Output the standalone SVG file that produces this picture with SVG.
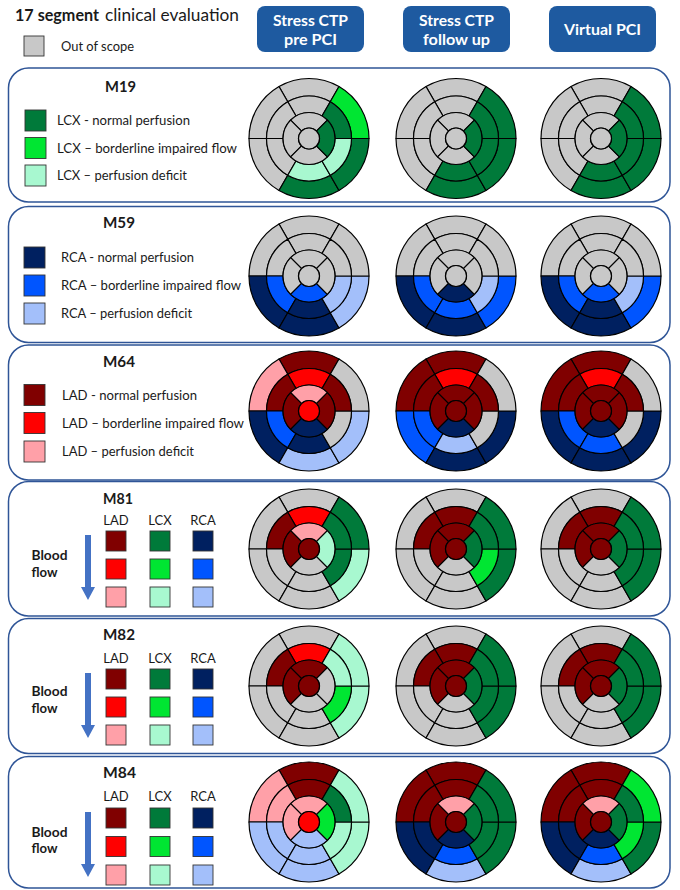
<svg xmlns="http://www.w3.org/2000/svg" xmlns:xlink="http://www.w3.org/1999/xlink" width="680" height="890" viewBox="0 0 680 890">
<style>
text{font-family:"Lato","Open Sans","Liberation Sans",sans-serif;fill:#1a1a1a}
.t{font-size:13px}
.b{font-weight:bold}
.m{font-size:15px;font-weight:bold}
.hd{font-size:15.5px;font-weight:bold;fill:#fff}
.hb{fill:#1e5aa0}
.pn{fill:#fff;stroke:#2f5597;stroke-width:1.5}
.be{stroke:#000;stroke-width:1.2;stroke-linejoin:round}
.sq{stroke:#333;stroke-width:0.9}
.g{fill:#c8c8c8}
.l1{fill:#800000}.l2{fill:#ff0000}.l3{fill:#ffa0a8}
.x1{fill:#007a3a}.x2{fill:#00e632}.x3{fill:#a8f8d0}
.r1{fill:#002060}.r2{fill:#0055ff}.r3{fill:#a3bffa}
.ar{fill:#4472c4}
</style>
<defs>
<path id="oT" d="M30,-51.96A60,60 0 0 0 -30,-51.96L-21.25,-36.81A42.5,42.5 0 0 1 21.25,-36.81Z"/>
<path id="oUL" d="M-30,-51.96A60,60 0 0 0 -60,0L-42.5,0A42.5,42.5 0 0 1 -21.25,-36.81Z"/>
<path id="oLL" d="M-60,0A60,60 0 0 0 -30,51.96L-21.25,36.81A42.5,42.5 0 0 1 -42.5,0Z"/>
<path id="oB" d="M-30,51.96A60,60 0 0 0 30,51.96L21.25,36.81A42.5,42.5 0 0 1 -21.25,36.81Z"/>
<path id="oLR" d="M30,51.96A60,60 0 0 0 60,0L42.5,0A42.5,42.5 0 0 1 21.25,36.81Z"/>
<path id="oUR" d="M60,0A60,60 0 0 0 30,-51.96L21.25,-36.81A42.5,42.5 0 0 1 42.5,0Z"/>
<path id="mT" d="M21.25,-36.81A42.5,42.5 0 0 0 -21.25,-36.81L-13,-22.52A26,26 0 0 1 13,-22.52Z"/>
<path id="mUL" d="M-21.25,-36.81A42.5,42.5 0 0 0 -42.5,0L-26,0A26,26 0 0 1 -13,-22.52Z"/>
<path id="mLL" d="M-42.5,0A42.5,42.5 0 0 0 -21.25,36.81L-13,22.52A26,26 0 0 1 -26,0Z"/>
<path id="mB" d="M-21.25,36.81A42.5,42.5 0 0 0 21.25,36.81L13,22.52A26,26 0 0 1 -13,22.52Z"/>
<path id="mLR" d="M21.25,36.81A42.5,42.5 0 0 0 42.5,0L26,0A26,26 0 0 1 13,22.52Z"/>
<path id="mUR" d="M42.5,0A42.5,42.5 0 0 0 21.25,-36.81L13,-22.52A26,26 0 0 1 26,0Z"/>
<path id="aT" d="M18.38,-18.38A26,26 0 0 0 -18.38,-18.38L-7.42,-7.42A10.5,10.5 0 0 1 7.42,-7.42Z"/>
<path id="aL" d="M-18.38,-18.38A26,26 0 0 0 -18.38,18.38L-7.42,7.42A10.5,10.5 0 0 1 -7.42,-7.42Z"/>
<path id="aB" d="M-18.38,18.38A26,26 0 0 0 18.38,18.38L7.42,7.42A10.5,10.5 0 0 1 -7.42,7.42Z"/>
<path id="aR" d="M18.38,18.38A26,26 0 0 0 18.38,-18.38L7.42,-7.42A10.5,10.5 0 0 1 7.42,7.42Z"/>
<circle id="c" r="10.5"/>
<path id="arrow" d="M-3,0H3V52H7L0,65L-7,52H-3Z"/>
</defs>

<g id="header">
<text x="15" y="21" class="b" style="font-size:17px" textLength="84" lengthAdjust="spacingAndGlyphs">17 segment</text>
<text x="105" y="21" style="font-size:17px" textLength="134" lengthAdjust="spacingAndGlyphs">clinical evaluation</text>
<rect x="24" y="36" width="20" height="20" class="g sq"/>
<text x="61" y="51" class="t" textLength="73" lengthAdjust="spacingAndGlyphs">Out of scope</text>
</g>
<g id="col-pre">
<rect x="257" y="6" width="107" height="46" rx="8" class="hb"/>
<text x="310.5" y="26" class="hd" text-anchor="middle" textLength="75" lengthAdjust="spacingAndGlyphs">Stress CTP</text>
<text x="310.5" y="45" class="hd" text-anchor="middle" textLength="53" lengthAdjust="spacingAndGlyphs">pre PCI</text>
</g>
<g id="col-follow">
<rect x="403" y="6" width="107" height="46" rx="8" class="hb"/>
<text x="456.5" y="26" class="hd" text-anchor="middle" textLength="75" lengthAdjust="spacingAndGlyphs">Stress CTP</text>
<text x="456.5" y="45" class="hd" text-anchor="middle" textLength="67" lengthAdjust="spacingAndGlyphs">follow up</text>
</g>
<g id="col-virtual">
<rect x="549" y="6" width="107" height="46" rx="8" class="hb"/>
<text x="602.5" y="35" class="hd" text-anchor="middle" textLength="77" lengthAdjust="spacingAndGlyphs">Virtual PCI</text>
</g>

<!-- Panel M19 -->
<g id="M19">
<rect x="8.5" y="68" width="661.5" height="134" rx="20" class="pn"/>
<text x="105" y="91.5" class="m" textLength="31" lengthAdjust="spacingAndGlyphs">M19</text>
<rect x="25" y="110" width="21" height="21" class="x1 sq"/>
<rect x="25" y="137.5" width="21" height="21" class="x2 sq"/>
<rect x="25" y="165" width="21" height="21" class="x3 sq"/>
<text x="57" y="125" class="t" textLength="133" lengthAdjust="spacingAndGlyphs">LCX - normal perfusion</text>
<text x="57" y="152.5" class="t" textLength="180" lengthAdjust="spacingAndGlyphs">LCX – borderline impaired flow</text>
<text x="57" y="180" class="t" textLength="130" lengthAdjust="spacingAndGlyphs">LCX – perfusion deficit</text>
<g class="be" transform="translate(309,138.5)">
<use href="#oT" class="g"/><use href="#oUL" class="g"/><use href="#oLL" class="g"/><use href="#oB" class="x1"/><use href="#oLR" class="x1"/><use href="#oUR" class="x2"/>
<use href="#mT" class="g"/><use href="#mUL" class="g"/><use href="#mLL" class="g"/><use href="#mB" class="x3"/><use href="#mLR" class="x3"/><use href="#mUR" class="x1"/>
<use href="#aT" class="g"/><use href="#aL" class="g"/><use href="#aB" class="g"/><use href="#aR" class="x1"/><use href="#c" class="g"/>
</g>
<g class="be" transform="translate(456,138.5)">
<use href="#oT" class="g"/><use href="#oUL" class="g"/><use href="#oLL" class="g"/><use href="#oB" class="x1"/><use href="#oLR" class="x1"/><use href="#oUR" class="x1"/>
<use href="#mT" class="g"/><use href="#mUL" class="g"/><use href="#mLL" class="g"/><use href="#mB" class="x1"/><use href="#mLR" class="x1"/><use href="#mUR" class="x1"/>
<use href="#aT" class="g"/><use href="#aL" class="g"/><use href="#aB" class="g"/><use href="#aR" class="x1"/><use href="#c" class="g"/>
</g>
<g class="be" transform="translate(601,138.5)">
<use href="#oT" class="g"/><use href="#oUL" class="g"/><use href="#oLL" class="g"/><use href="#oB" class="x1"/><use href="#oLR" class="x1"/><use href="#oUR" class="x1"/>
<use href="#mT" class="g"/><use href="#mUL" class="g"/><use href="#mLL" class="g"/><use href="#mB" class="x1"/><use href="#mLR" class="x1"/><use href="#mUR" class="x1"/>
<use href="#aT" class="g"/><use href="#aL" class="g"/><use href="#aB" class="g"/><use href="#aR" class="x1"/><use href="#c" class="g"/>
</g>
</g>

<!-- Panel M59 -->
<g id="M59">
<rect x="8.5" y="206.5" width="661.5" height="136" rx="20" class="pn"/>
<text x="103" y="228" class="m" textLength="32" lengthAdjust="spacingAndGlyphs">M59</text>
<rect x="24" y="247" width="21" height="21" class="r1 sq"/>
<rect x="24" y="275" width="21" height="21" class="r2 sq"/>
<rect x="24" y="303" width="21" height="21" class="r3 sq"/>
<text x="61" y="262" class="t" textLength="133" lengthAdjust="spacingAndGlyphs">RCA - normal perfusion</text>
<text x="61" y="290" class="t" textLength="180" lengthAdjust="spacingAndGlyphs">RCA – borderline impaired flow</text>
<text x="61" y="318" class="t" textLength="131" lengthAdjust="spacingAndGlyphs">RCA – perfusion deficit</text>
<g class="be" transform="translate(309,276)">
<use href="#oT" class="g"/><use href="#oUL" class="g"/><use href="#oLL" class="r1"/><use href="#oB" class="r1"/><use href="#oLR" class="r3"/><use href="#oUR" class="g"/>
<use href="#mT" class="g"/><use href="#mUL" class="g"/><use href="#mLL" class="r2"/><use href="#mB" class="r1"/><use href="#mLR" class="r3"/><use href="#mUR" class="g"/>
<use href="#aT" class="g"/><use href="#aL" class="g"/><use href="#aB" class="r2"/><use href="#aR" class="g"/><use href="#c" class="g"/>
</g>
<g class="be" transform="translate(456,276)">
<use href="#oT" class="g"/><use href="#oUL" class="g"/><use href="#oLL" class="r1"/><use href="#oB" class="r1"/><use href="#oLR" class="r2"/><use href="#oUR" class="g"/>
<use href="#mT" class="g"/><use href="#mUL" class="g"/><use href="#mLL" class="r2"/><use href="#mB" class="r2"/><use href="#mLR" class="r3"/><use href="#mUR" class="g"/>
<use href="#aT" class="g"/><use href="#aL" class="g"/><use href="#aB" class="r1"/><use href="#aR" class="g"/><use href="#c" class="g"/>
</g>
<g class="be" transform="translate(601,276)">
<use href="#oT" class="g"/><use href="#oUL" class="g"/><use href="#oLL" class="r1"/><use href="#oB" class="r1"/><use href="#oLR" class="r2"/><use href="#oUR" class="g"/>
<use href="#mT" class="g"/><use href="#mUL" class="g"/><use href="#mLL" class="r2"/><use href="#mB" class="r1"/><use href="#mLR" class="r3"/><use href="#mUR" class="g"/>
<use href="#aT" class="g"/><use href="#aL" class="g"/><use href="#aB" class="r2"/><use href="#aR" class="g"/><use href="#c" class="g"/>
</g>
</g>

<!-- Panel M64 -->
<g id="M64">
<rect x="8.5" y="345" width="661.5" height="135" rx="20" class="pn"/>
<text x="103" y="367" class="m" textLength="32" lengthAdjust="spacingAndGlyphs">M64</text>
<rect x="24" y="384.5" width="21" height="21" class="l1 sq"/>
<rect x="24" y="412.5" width="21" height="21" class="l2 sq"/>
<rect x="24" y="441" width="21" height="21" class="l3 sq"/>
<text x="62" y="399.5" class="t" textLength="135" lengthAdjust="spacingAndGlyphs">LAD - normal perfusion</text>
<text x="62" y="427.5" class="t" textLength="182" lengthAdjust="spacingAndGlyphs">LAD – borderline impaired flow</text>
<text x="62" y="456" class="t" textLength="132" lengthAdjust="spacingAndGlyphs">LAD – perfusion deficit</text>
<g class="be" transform="translate(309,411)">
<use href="#oT" class="l1"/><use href="#oUL" class="l3"/><use href="#oLL" class="r1"/><use href="#oB" class="r3"/><use href="#oLR" class="r3"/><use href="#oUR" class="g"/>
<use href="#mT" class="l2"/><use href="#mUL" class="l1"/><use href="#mLL" class="r2"/><use href="#mB" class="r1"/><use href="#mLR" class="g"/><use href="#mUR" class="l1"/>
<use href="#aT" class="l3"/><use href="#aL" class="l1"/><use href="#aB" class="r1"/><use href="#aR" class="l1"/><use href="#c" class="l2"/>
</g>
<g class="be" transform="translate(456,411)">
<use href="#oT" class="l1"/><use href="#oUL" class="l1"/><use href="#oLL" class="r2"/><use href="#oB" class="r1"/><use href="#oLR" class="r1"/><use href="#oUR" class="g"/>
<use href="#mT" class="l2"/><use href="#mUL" class="l1"/><use href="#mLL" class="r2"/><use href="#mB" class="r3"/><use href="#mLR" class="g"/><use href="#mUR" class="l1"/>
<use href="#aT" class="l1"/><use href="#aL" class="l1"/><use href="#aB" class="r1"/><use href="#aR" class="l1"/><use href="#c" class="l1"/>
</g>
<g class="be" transform="translate(601,411)">
<use href="#oT" class="l1"/><use href="#oUL" class="l1"/><use href="#oLL" class="r1"/><use href="#oB" class="r1"/><use href="#oLR" class="r1"/><use href="#oUR" class="g"/>
<use href="#mT" class="l2"/><use href="#mUL" class="l1"/><use href="#mLL" class="r2"/><use href="#mB" class="r2"/><use href="#mLR" class="g"/><use href="#mUR" class="l1"/>
<use href="#aT" class="l1"/><use href="#aL" class="l1"/><use href="#aB" class="r1"/><use href="#aR" class="l1"/><use href="#c" class="l1"/>
</g>
</g>

<!-- Panel M81 -->
<g id="M81">
<rect x="8.5" y="481.5" width="661.5" height="134.5" rx="20" class="pn"/>
<text x="103" y="504" class="m" textLength="30" lengthAdjust="spacingAndGlyphs">M81</text>
<text x="116" y="525" class="t" text-anchor="middle">LAD</text>
<text x="160" y="525" class="t" text-anchor="middle">LCX</text>
<text x="203" y="525" class="t" text-anchor="middle">RCA</text>
<rect x="106" y="531" width="20" height="20" class="l1 sq"/><rect x="150" y="531" width="20" height="20" class="x1 sq"/><rect x="193" y="531" width="20" height="20" class="r1 sq"/>
<rect x="106" y="559" width="20" height="20" class="l2 sq"/><rect x="150" y="559" width="20" height="20" class="x2 sq"/><rect x="193" y="559" width="20" height="20" class="r2 sq"/>
<rect x="106" y="587" width="20" height="20" class="l3 sq"/><rect x="150" y="587" width="20" height="20" class="x3 sq"/><rect x="193" y="587" width="20" height="20" class="r3 sq"/>
<text x="31.5" y="560" class="t b" textLength="36" lengthAdjust="spacingAndGlyphs">Blood</text>
<text x="31.5" y="576.5" class="t b" textLength="26" lengthAdjust="spacingAndGlyphs">flow</text>
<use href="#arrow" class="ar" transform="translate(88,535)"/>
<g class="be" transform="translate(309,549)">
<use href="#oT" class="g"/><use href="#oUL" class="g"/><use href="#oLL" class="g"/><use href="#oB" class="g"/><use href="#oLR" class="x3"/><use href="#oUR" class="x1"/>
<use href="#mT" class="l2"/><use href="#mUL" class="l1"/><use href="#mLL" class="g"/><use href="#mB" class="g"/><use href="#mLR" class="x1"/><use href="#mUR" class="x1"/>
<use href="#aT" class="l3"/><use href="#aL" class="l1"/><use href="#aB" class="g"/><use href="#aR" class="x3"/><use href="#c" class="l1"/>
</g>
<g class="be" transform="translate(456,549)">
<use href="#oT" class="g"/><use href="#oUL" class="g"/><use href="#oLL" class="g"/><use href="#oB" class="g"/><use href="#oLR" class="x1"/><use href="#oUR" class="x1"/>
<use href="#mT" class="l1"/><use href="#mUL" class="l1"/><use href="#mLL" class="g"/><use href="#mB" class="g"/><use href="#mLR" class="x2"/><use href="#mUR" class="x1"/>
<use href="#aT" class="l1"/><use href="#aL" class="l1"/><use href="#aB" class="g"/><use href="#aR" class="x1"/><use href="#c" class="l1"/>
</g>
<g class="be" transform="translate(601,549)">
<use href="#oT" class="g"/><use href="#oUL" class="g"/><use href="#oLL" class="g"/><use href="#oB" class="g"/><use href="#oLR" class="x1"/><use href="#oUR" class="x1"/>
<use href="#mT" class="l1"/><use href="#mUL" class="l1"/><use href="#mLL" class="g"/><use href="#mB" class="g"/><use href="#mLR" class="x1"/><use href="#mUR" class="x1"/>
<use href="#aT" class="l1"/><use href="#aL" class="l1"/><use href="#aB" class="g"/><use href="#aR" class="x1"/><use href="#c" class="l1"/>
</g>
</g>

<!-- Panel M82 -->
<g id="M82">
<rect x="8.5" y="618.5" width="661.5" height="135" rx="20" class="pn"/>
<text x="103" y="639.5" class="m" textLength="32" lengthAdjust="spacingAndGlyphs">M82</text>
<text x="116" y="662.5" class="t" text-anchor="middle">LAD</text>
<text x="160" y="662.5" class="t" text-anchor="middle">LCX</text>
<text x="203" y="662.5" class="t" text-anchor="middle">RCA</text>
<rect x="106" y="669" width="20" height="20" class="l1 sq"/><rect x="150" y="669" width="20" height="20" class="x1 sq"/><rect x="193" y="669" width="20" height="20" class="r1 sq"/>
<rect x="106" y="697" width="20" height="20" class="l2 sq"/><rect x="150" y="697" width="20" height="20" class="x2 sq"/><rect x="193" y="697" width="20" height="20" class="r2 sq"/>
<rect x="106" y="725" width="20" height="20" class="l3 sq"/><rect x="150" y="725" width="20" height="20" class="x3 sq"/><rect x="193" y="725" width="20" height="20" class="r3 sq"/>
<text x="31.5" y="696" class="t b" textLength="36" lengthAdjust="spacingAndGlyphs">Blood</text>
<text x="31.5" y="713" class="t b" textLength="26" lengthAdjust="spacingAndGlyphs">flow</text>
<use href="#arrow" class="ar" transform="translate(88,673)"/>
<g class="be" transform="translate(309,686)">
<use href="#oT" class="g"/><use href="#oUL" class="g"/><use href="#oLL" class="g"/><use href="#oB" class="g"/><use href="#oLR" class="x3"/><use href="#oUR" class="x3"/>
<use href="#mT" class="l2"/><use href="#mUL" class="l1"/><use href="#mLL" class="g"/><use href="#mB" class="g"/><use href="#mLR" class="x2"/><use href="#mUR" class="x3"/>
<use href="#aT" class="l1"/><use href="#aL" class="l1"/><use href="#aB" class="g"/><use href="#aR" class="g"/><use href="#c" class="l1"/>
</g>
<g class="be" transform="translate(456,686)">
<use href="#oT" class="g"/><use href="#oUL" class="g"/><use href="#oLL" class="g"/><use href="#oB" class="g"/><use href="#oLR" class="x1"/><use href="#oUR" class="x1"/>
<use href="#mT" class="l1"/><use href="#mUL" class="l1"/><use href="#mLL" class="g"/><use href="#mB" class="g"/><use href="#mLR" class="x1"/><use href="#mUR" class="x1"/>
<use href="#aT" class="l1"/><use href="#aL" class="l1"/><use href="#aB" class="g"/><use href="#aR" class="x1"/><use href="#c" class="l1"/>
</g>
<g class="be" transform="translate(601,686)">
<use href="#oT" class="g"/><use href="#oUL" class="g"/><use href="#oLL" class="g"/><use href="#oB" class="g"/><use href="#oLR" class="x1"/><use href="#oUR" class="x1"/>
<use href="#mT" class="l1"/><use href="#mUL" class="l1"/><use href="#mLL" class="g"/><use href="#mB" class="g"/><use href="#mLR" class="x1"/><use href="#mUR" class="x1"/>
<use href="#aT" class="l1"/><use href="#aL" class="l1"/><use href="#aB" class="g"/><use href="#aR" class="x1"/><use href="#c" class="l1"/>
</g>
</g>

<!-- Panel M84 -->
<g id="M84">
<rect x="8.5" y="756.5" width="661.5" height="131.5" rx="20" class="pn"/>
<text x="103" y="777.5" class="m" textLength="33" lengthAdjust="spacingAndGlyphs">M84</text>
<text x="116" y="800.5" class="t" text-anchor="middle">LAD</text>
<text x="160" y="800.5" class="t" text-anchor="middle">LCX</text>
<text x="203" y="800.5" class="t" text-anchor="middle">RCA</text>
<rect x="106" y="808" width="20" height="20" class="l1 sq"/><rect x="150" y="808" width="20" height="20" class="x1 sq"/><rect x="193" y="808" width="20" height="20" class="r1 sq"/>
<rect x="106" y="836.5" width="20" height="20" class="l2 sq"/><rect x="150" y="836.5" width="20" height="20" class="x2 sq"/><rect x="193" y="836.5" width="20" height="20" class="r2 sq"/>
<rect x="106" y="865" width="20" height="20" class="l3 sq"/><rect x="150" y="865" width="20" height="20" class="x3 sq"/><rect x="193" y="865" width="20" height="20" class="r3 sq"/>
<text x="31.5" y="836.5" class="t b" textLength="36" lengthAdjust="spacingAndGlyphs">Blood</text>
<text x="31.5" y="853" class="t b" textLength="26" lengthAdjust="spacingAndGlyphs">flow</text>
<use href="#arrow" class="ar" transform="translate(88,812)"/>
<g class="be" transform="translate(309,822)">
<use href="#oT" class="l1"/><use href="#oUL" class="l3"/><use href="#oLL" class="r3"/><use href="#oB" class="r3"/><use href="#oLR" class="x3"/><use href="#oUR" class="x3"/>
<use href="#mT" class="l1"/><use href="#mUL" class="l3"/><use href="#mLL" class="r3"/><use href="#mB" class="r3"/><use href="#mLR" class="x3"/><use href="#mUR" class="x1"/>
<use href="#aT" class="l3"/><use href="#aL" class="l3"/><use href="#aB" class="r3"/><use href="#aR" class="x2"/><use href="#c" class="l2"/>
</g>
<g class="be" transform="translate(456,822)">
<use href="#oT" class="l1"/><use href="#oUL" class="l1"/><use href="#oLL" class="r1"/><use href="#oB" class="r3"/><use href="#oLR" class="x1"/><use href="#oUR" class="x1"/>
<use href="#mT" class="l1"/><use href="#mUL" class="l1"/><use href="#mLL" class="r1"/><use href="#mB" class="r2"/><use href="#mLR" class="x1"/><use href="#mUR" class="x1"/>
<use href="#aT" class="l3"/><use href="#aL" class="l1"/><use href="#aB" class="r1"/><use href="#aR" class="x1"/><use href="#c" class="l1"/>
</g>
<g class="be" transform="translate(601,822)">
<use href="#oT" class="l1"/><use href="#oUL" class="l1"/><use href="#oLL" class="r1"/><use href="#oB" class="r3"/><use href="#oLR" class="x1"/><use href="#oUR" class="x2"/>
<use href="#mT" class="l1"/><use href="#mUL" class="l1"/><use href="#mLL" class="r1"/><use href="#mB" class="r2"/><use href="#mLR" class="x2"/><use href="#mUR" class="x1"/>
<use href="#aT" class="l3"/><use href="#aL" class="l1"/><use href="#aB" class="r1"/><use href="#aR" class="x1"/><use href="#c" class="l1"/>
</g>
</g>
</svg>
